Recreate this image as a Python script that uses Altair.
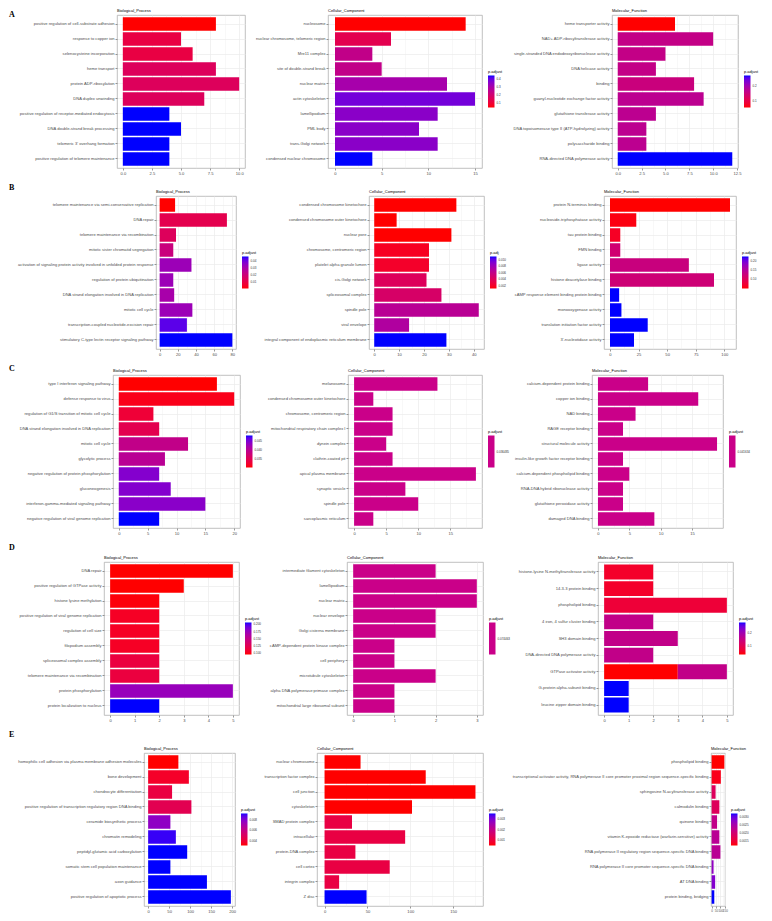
import altair as alt
import pandas as pd

# ---------------- Row A ----------------
A_BP_terms = ["positive regulation of cell-substrate adhesion", "response to copper ion", "selenocysteine incorporation",
              "heme transport", "protein ADP-ribosylation", "DNA duplex unwinding",
              "positive regulation of receptor-mediated endocytosis", "DNA double-strand break processing",
              "telomeric 3' overhang formation", "positive regulation of telomere maintenance"]
A_BP_count = [8, 5, 6, 8, 10, 7, 4, 5, 4, 4]
A_BP_p = [0.010, 0.018, 0.018, 0.022, 0.022, 0.022, 0.050, 0.050, 0.050, 0.050]

A_CC_terms = ["nucleosome", "nuclear chromosome, telomeric region", "Mre11 complex", "site of double-strand break",
              "nuclear matrix", "actin cytoskeleton", "lamellipodium", "PML body", "trans-Golgi network",
              "condensed nuclear chromosome"]
A_CC_count = [14, 6, 4, 5, 12, 15, 11, 9, 11, 4]
A_CC_p = [0.04, 0.14, 0.24, 0.24, 0.30, 0.38, 0.35, 0.35, 0.35, 0.44]
A_CC_legend = [0.1, 0.2, 0.3, 0.4]

A_MF_terms = ["heme transporter activity", "NAD+ ADP-ribosyltransferase activity",
              "single-stranded DNA endodeoxyribonuclease activity", "DNA helicase activity", "binding",
              "guanyl-nucleotide exchange factor activity", "glutathione transferase activity",
              "DNA topoisomerase type II (ATP-hydrolyzing) activity", "polysaccharide binding",
              "RNA-directed DNA polymerase activity"]
A_MF_count = [6, 10, 5, 4, 8, 9, 4, 3, 3, 12]
A_MF_p = [0.05, 0.16, 0.16, 0.16, 0.15, 0.17, 0.17, 0.17, 0.17, 0.275]
A_MF_legend = [0.1, 0.2]

# ---------------- Row B ----------------
B_BP_terms = ["telomere maintenance via semi-conservative replication", "DNA repair",
              "telomere maintenance via recombination", "mitotic sister chromatid segregation",
              "activation of signaling protein activity involved in unfolded protein response",
              "regulation of protein ubiquitination", "DNA strand elongation involved in DNA replication",
              "mitotic cell cycle", "transcription-coupled nucleotide-excision repair",
              "stimulatory C-type lectin receptor signaling pathway"]
B_BP_count = [17, 74, 18, 15, 35, 15, 16, 36, 30, 80]
B_BP_p = [0.001, 0.012, 0.0145, 0.021, 0.0325, 0.0325, 0.030, 0.0325, 0.042, 0.046]
B_BP_legend = [0.01, 0.02, 0.03, 0.04]

B_CC_terms = ["condensed chromosome kinetochore", "condensed chromosome outer kinetochore", "nuclear pore",
              "chromosome, centromeric region", "platelet alpha granule lumen", "cis-Golgi network",
              "spliceosomal complex", "spindle pole", "viral envelope",
              "integral component of endoplasmic reticulum membrane"]
B_CC_count = [33, 9, 31, 22, 22, 21, 27, 42, 14, 29]
B_CC_p = [0.001, 0.001, 0.001, 0.0017, 0.002, 0.004, 0.0045, 0.0065, 0.007, 0.011]
B_CC_legend = [0.002, 0.004, 0.006, 0.008, 0.010]

B_MF_terms = ["protein N-terminus binding", "nucleoside-triphosphatase activity", "tau protein binding",
              "FMN binding", "ligase activity", "histone deacetylase binding",
              "cAMP response element binding protein binding", "monooxygenase activity",
              "translation initiation factor activity", "3'-nucleotidase activity"]
B_MF_count = [105, 23, 9, 9, 69, 91, 8, 10, 33, 21]
B_MF_p = [0.05, 0.055, 0.064, 0.118, 0.127, 0.121, 0.22, 0.22, 0.22, 0.22]
B_MF_legend = [0.10, 0.15, 0.20]

# ---------------- Row C ----------------
C_BP_terms = ["type I interferon signaling pathway", "defense response to virus",
              "regulation of G1/S transition of mitotic cell cycle",
              "DNA strand elongation involved in DNA replication", "mitotic cell cycle", "glycolytic process",
              "negative regulation of protein phosphorylation", "gluconeogenesis",
              "interferon-gamma-mediated signaling pathway", "negative regulation of viral genome replication"]
C_BP_count = [17, 20, 6, 7, 12, 8, 7, 9, 15, 7]
C_BP_p = [0.0300, 0.0309, 0.0327, 0.0345, 0.0390, 0.0399, 0.0444, 0.0444, 0.0440, 0.0480]
C_BP_legend = [0.035, 0.040, 0.045]

C_CC_terms = ["melanosome", "condensed chromosome outer kinetochore", "chromosome, centromeric region",
              "mitochondrial respiratory chain complex I", "dynein complex", "clathrin-coated pit",
              "apical plasma membrane", "synaptic vesicle", "spindle pole", "sarcoplasmic reticulum"]
C_CC_count = [13, 3, 6, 6, 5, 6, 19, 8, 10, 3]
C_CC_p = [0.036485, 0.036485, 0.036485, 0.036485, 0.036485, 0.036485, 0.036485, 0.036485, 0.036485, 0.036485]

C_MF_terms = ["calcium-dependent protein binding", "copper ion binding", "NAD binding", "RAGE receptor binding",
              "structural molecule activity", "insulin-like growth factor receptor binding",
              "calcium-dependent phospholipid binding", "RNA-DNA hybrid ribonuclease activity",
              "glutathione peroxidase activity", "damaged DNA binding"]
C_MF_count = [8, 16, 6, 4, 19, 4, 5, 4, 4, 9]
C_MF_p = [0.041634, 0.041634, 0.041634, 0.041634, 0.041634, 0.041634, 0.041634, 0.041634, 0.041634, 0.041634]

# ---------------- Row D ----------------
D_BP_terms = ["DNA repair", "positive regulation of GTPase activity", "histone lysine methylation",
              "positive regulation of viral genome replication", "regulation of cell size", "filopodium assembly",
              "spliceosomal complex assembly", "telomere maintenance via recombination",
              "protein phosphorylation", "protein localization to nucleus"]
D_BP_count = [5, 3, 2, 2, 2, 2, 2, 2, 5, 2]
D_BP_p = [0.095, 0.095, 0.097, 0.104, 0.104, 0.104, 0.115, 0.115, 0.174, 0.205]
D_BP_legend = [0.100, 0.125, 0.150, 0.175, 0.200]

D_CC_terms = ["intermediate filament cytoskeleton", "lamellipodium", "nuclear matrix", "nuclear envelope",
              "Golgi cisterna membrane", "cAMP-dependent protein kinase complex", "cell periphery",
              "microtubule cytoskeleton", "alpha DNA polymerase:primase complex",
              "mitochondrial large ribosomal subunit"]
D_CC_count = [2, 3, 3, 2, 2, 1, 1, 2, 1, 1]
D_CC_p = [0.074463, 0.074463, 0.074463, 0.074463, 0.074463, 0.074463, 0.074463, 0.074463, 0.074463, 0.074463]

D_MF_terms = ["histone-lysine N-methyltransferase activity", "14-3-3 protein binding", "phospholipid binding",
              "4 iron, 4 sulfur cluster binding", "SH3 domain binding", "DNA-directed DNA polymerase activity",
              "GTPase activator activity", "GTPase activator activity", "G-protein alpha-subunit binding",
              "leucine zipper domain binding"]
D_MF_count = [2, 2, 5, 2, 3, 2, 3, 2, 1, 1]
D_MF_p = [0.063, 0.063, 0.075, 0.155, 0.155, 0.155, 0.040, 0.155, 0.270, 0.270]
D_MF_legend = [0.1, 0.2]

# ---------------- Row E ----------------
E_BP_terms = ["homophilic cell adhesion via plasma membrane adhesion molecules", "bone development",
              "chondrocyte differentiation", "positive regulation of transcription regulatory region DNA binding",
              "ceramide biosynthetic process", "chromatin remodeling", "peptidyl-glutamic acid carboxylation",
              "somatic stem cell population maintenance", "axon guidance", "positive regulation of apoptotic process"]
E_BP_count = [72, 97, 57, 103, 53, 66, 93, 53, 140, 197]
E_BP_p = [0.0030, 0.0036, 0.0042, 0.0046, 0.0077, 0.0090, 0.0092, 0.0092, 0.0092, 0.0092]
E_BP_legend = [0.004, 0.006, 0.008]

E_CC_terms = ["nuclear chromosome", "transcription factor complex", "cell junction", "cytoskeleton",
              "SMAD protein complex", "intracellular", "protein-DNA complex", "cell cortex", "integrin complex", "Z disc"]
E_CC_count = [42, 118, 176, 102, 32, 94, 36, 76, 17, 49]
E_CC_p = [0.0005, 0.0005, 0.0005, 0.0005, 0.0011, 0.0011, 0.0011, 0.0011, 0.0011, 0.0035]
E_CC_legend = [0.001, 0.002, 0.003]

E_MF_terms = ["phospholipid binding",
              "transcriptional activator activity, RNA polymerase II core promoter proximal region sequence-specific binding",
              "sphingosine N-acyltransferase activity", "calmodulin binding", "quinone binding",
              "vitamin K-epoxide reductase (warfarin-sensitive) activity",
              "RNA polymerase II regulatory region sequence-specific DNA binding",
              "RNA polymerase II core promoter sequence-specific DNA binding", "AT DNA binding",
              "protein binding, bridging"]
E_MF_count = [145, 105, 45, 88, 62, 88, 100, 22, 40, 30]
E_MF_p = [0.0012, 0.0013, 0.0018, 0.0018, 0.0022, 0.0023, 0.0023, 0.0027, 0.0028, 0.0032]
E_MF_legend = [0.0015, 0.0020, 0.0025, 0.0030]

RED, BLUE, MID = "#FF0000", "#0000FF", "#CA0089"
FONT = "Liberation Sans"
LBL = 4.1
H = 153


def panel(title, terms, counts, pvals, width, majors, xfmt, legend_vals=None, legend_fmt=".1f",
          legend_title="p.adjust", show_legend=True, xlabel_size=LBL):
    df = pd.DataFrame({"term": terms, "count": counts, "p": pvals})
    order = list(dict.fromkeys(terms))
    M = float(df.groupby("term")["count"].sum().max())
    xdom = [-0.05 * M, 1.05 * M]
    step = majors[1] - majors[0]
    mids = [(a + b) / 2 for a, b in zip(majors, majors[1:])]
    if majors[-1] + step / 2 <= xdom[1]:
        mids.append(majors[-1] + step / 2)
    vals = sorted(majors + mids)
    test = f"abs(datum.value/{step} - round(datum.value/{step})) < 1e-6"

    xaxis = alt.Axis(values=vals, format=xfmt, labelExpr=f"({test}) ? datum.label : ''",
                     tickOpacity={"condition": {"test": test, "value": 1}, "value": 0},
                     gridWidth={"condition": {"test": test, "value": 0.7}, "value": 0.35},
                     gridColor="#EBEBEB", grid=True, tickSize=2, tickColor="#333333", tickWidth=0.5,
                     labelFontSize=xlabel_size, labelColor="#4D4D4D", labelPadding=1, domain=False, title=None,
                     labelFlush=False, labelOverlap=False, labelFont=FONT)

    yaxis = alt.Axis(title=None, labelFontSize=LBL, labelColor="#4D4D4D", tickSize=2, tickColor="#333333",
                     tickWidth=0.5, domain=False, grid=True, gridColor="#EBEBEB", gridWidth=0.7,
                     bandPosition=0.5, labelPadding=1, labelLimit=0, labelFont=FONT)

    pmin, pmax = min(pvals), max(pvals)
    if pmin == pmax:
        cscale = alt.Scale(domain=[pmin - 1e-6, pmax + 1e-6], range=[MID, MID], nice=False, zero=False)
        legend_vals = [pmin]
        legend_fmt = ".6f"
    else:
        cscale = alt.Scale(domain=[pmin, pmax], range=[RED, BLUE], interpolate="lab", nice=False, zero=False)

    if show_legend:
        leg = alt.Legend(title=legend_title, orient="none", direction="vertical",
                         legendX=width + 6, legendY=H / 2 - 22, gradientLength=32, gradientThickness=6.5,
                         values=legend_vals, format=legend_fmt, titleFontSize=4, titleFontWeight="normal",
                         titleFont=FONT, titleColor="black", labelFontSize=3, labelFont=FONT, labelColor="#333333",
                         labelOffset=2, titlePadding=2, gradientStrokeWidth=0, labelOverlap=False)
        color = alt.Color("p:Q", scale=cscale, legend=leg)
    else:
        color = alt.Color("p:Q", scale=cscale, legend=None)

    return alt.Chart(df).mark_bar().encode(
        x=alt.X("count:Q", stack="zero", scale=alt.Scale(domain=xdom, nice=False, zero=False), axis=xaxis),
        y=alt.Y("term:N", sort=order, scale=alt.Scale(paddingInner=0.1, paddingOuter=0.15), axis=yaxis),
        color=color,
        order=alt.Order("p:Q", sort="ascending"),
    ).properties(
        width=width, height=H,
        title=alt.TitleParams(text=title, anchor="start", frame="group", fontSize=4, fontWeight="normal",
                              offset=2, color="black", font=FONT),
    )


def letter_cell(letter, offset):
    # invisible, zero-size cell that carries the row letter as its title
    return alt.Chart(pd.DataFrame({"v": [0]})).mark_point(size=0, opacity=0, strokeWidth=0).encode(
        x=alt.value(0), y=alt.value(0)
    ).properties(
        width=1, height=H, view=alt.ViewBackground(stroke="transparent"),
        title=alt.TitleParams(text=letter, anchor="start", frame="group", orient="top", offset=offset,
                              fontSize=8, font="Liberation Serif", fontWeight="bold", color="black"),
    )


def row(letter, offset, charts, spacing):
    inner = alt.hconcat(*charts, spacing=spacing).resolve_scale(
        x="independent", y="independent", color="independent").resolve_legend(color="independent")
    return alt.hconcat(letter_cell(letter, offset), inner, spacing=2).resolve_scale(
        x="independent", y="independent", color="independent").resolve_legend(color="independent")


BP, CC, MF = "Biological_Process", "Cellular_Component", "Molecular_Function"

rowA = row("A", -4, [
    panel(BP, A_BP_terms, A_BP_count, A_BP_p, 128, [0, 2.5, 5, 7.5, 10], ".1f", show_legend=False),
    panel(CC, A_CC_terms, A_CC_count, A_CC_p, 154, [0, 5, 10, 15], "d", A_CC_legend, ".1f"),
    panel(MF, A_MF_terms, A_MF_count, A_MF_p, 126, [0, 2.5, 5, 7.5, 10, 12.5], ".1f", A_MF_legend, ".1f"),
], 8)

rowB = row("B", 4, [
    panel(BP, B_BP_terms, B_BP_count, B_BP_p, 80, [0, 20, 40, 60, 80], "d", B_BP_legend, ".2f"),
    panel(CC, B_CC_terms, B_CC_count, B_CC_p, 115, [0, 10, 20, 30, 40], "d", B_CC_legend, ".3f",
          legend_title="p.adj"),
    panel(MF, B_MF_terms, B_MF_count, B_MF_p, 132, [0, 25, 50, 75, 100], "d", B_MF_legend, ".2f"),
], 5)

rowC = row("C", 2, [
    panel(BP, C_BP_terms, C_BP_count, C_BP_p, 127, [0, 5, 10, 15, 20], "d", C_BP_legend, ".3f"),
    panel(CC, C_CC_terms, C_CC_count, C_CC_p, 134, [0, 5, 10, 15], "d"),
    panel(MF, C_MF_terms, C_MF_count, C_MF_p, 131, [0, 5, 10, 15], "d"),
], 3)

rowD = row("D", 10, [
    panel(BP, D_BP_terms, D_BP_count, D_BP_p, 135, [0, 1, 2, 3, 4, 5], "d", D_BP_legend, ".3f"),
    panel(CC, D_CC_terms, D_CC_count, D_CC_p, 136, [0, 1, 2, 3], "d"),
    panel(MF, D_MF_terms, D_MF_count, D_MF_p, 135, [0, 1, 2, 3, 4, 5], "d", D_MF_legend, ".1f"),
], 5)

rowE = row("E", 14, [
    panel(BP, E_BP_terms, E_BP_count, E_BP_p, 91, [0, 50, 100, 150, 200], "d", E_BP_legend, ".3f"),
    panel(CC, E_CC_terms, E_CC_count, E_CC_p, 166, [0, 50, 100, 150], "d", E_CC_legend, ".3f"),
    panel(MF, E_MF_terms, E_MF_count, E_MF_p, 14, [0, 50, 100, 150], "d", E_MF_legend, ".4f", xlabel_size=3),
], 4)

chart = alt.vconcat(rowA, rowB, rowC, rowD, rowE, spacing=7).resolve_scale(
    x="independent", y="independent", color="independent"
).resolve_legend(color="independent").properties(
    padding={"left": 0, "top": 0, "right": 0, "bottom": 0}
).configure(font=FONT).configure_view(stroke="#B0B0B0", strokeWidth=0.8)

chart.save("out.html", embed_options={"renderer": "svg", "actions": False})
